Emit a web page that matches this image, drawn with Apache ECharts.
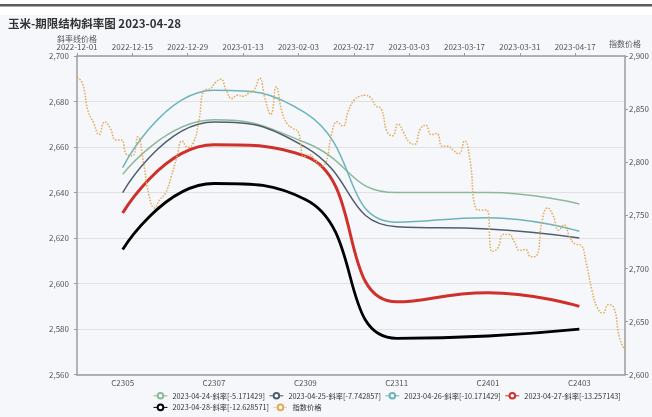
<!DOCTYPE html>
<html><head><meta charset="utf-8">
<script src="https://cdn.jsdelivr.net/npm/echarts@6/dist/echarts.min.js"></script>
<style>html,body{margin:0;padding:0;background:#fff}#c{width:652px;height:417px}</style>
</head><body><div id="c"></div>
<script>
const contracts = ['C2305','C2307','C2309','C2311','C2401','C2403'];
const s0424 = [2648, 2672, 2662, 2640, 2640, 2635];
const s0425 = [2640, 2671, 2660, 2625, 2624, 2620];
const s0426 = [2651, 2685, 2675, 2627, 2629, 2623];
const s0427 = [2631, 2661, 2656, 2592, 2596, 2590];
const s0428 = [2615, 2644, 2637, 2576, 2577, 2580];
const seriesNames = ['2023-04-24-斜率[-5.171429]','2023-04-25-斜率[-7.742857]','2023-04-26-斜率[-10.171429]','2023-04-27-斜率[-13.257143]','2023-04-28-斜率[-12.628571]','指数价格'];
const dates = [
'2022-12-01','2022-12-02','2022-12-05','2022-12-06','2022-12-07','2022-12-08','2022-12-09','2022-12-12','2022-12-13','2022-12-14',
'2022-12-15','2022-12-16','2022-12-19','2022-12-20','2022-12-21','2022-12-22','2022-12-23','2022-12-26','2022-12-27','2022-12-28',
'2022-12-29','2022-12-30','2023-01-03','2023-01-04','2023-01-05','2023-01-06','2023-01-09','2023-01-10','2023-01-11','2023-01-12',
'2023-01-13','2023-01-16','2023-01-17','2023-01-18','2023-01-19','2023-01-20','2023-01-30','2023-01-31','2023-02-01','2023-02-02',
'2023-02-03','2023-02-06','2023-02-07','2023-02-08','2023-02-09','2023-02-10','2023-02-13','2023-02-14','2023-02-15','2023-02-16',
'2023-02-17','2023-02-20','2023-02-21','2023-02-22','2023-02-23','2023-02-24','2023-02-27','2023-02-28','2023-03-01','2023-03-02',
'2023-03-03','2023-03-06','2023-03-07','2023-03-08','2023-03-09','2023-03-10','2023-03-13','2023-03-14','2023-03-15','2023-03-16',
'2023-03-17','2023-03-20','2023-03-21','2023-03-22','2023-03-23','2023-03-24','2023-03-27','2023-03-28','2023-03-29','2023-03-30',
'2023-03-31','2023-04-03','2023-04-04','2023-04-06','2023-04-07','2023-04-10','2023-04-11','2023-04-12','2023-04-13','2023-04-14',
'2023-04-17','2023-04-18','2023-04-19','2023-04-20','2023-04-21','2023-04-24','2023-04-25','2023-04-26','2023-04-27','2023-04-28'];
const indexPrice = [
2880, 2874, 2848, 2837, 2826, 2838, 2832, 2821, 2821, 2807,
2806, 2824, 2800, 2769, 2757, 2765, 2771, 2786, 2804, 2820,
2814, 2818, 2838, 2868, 2869, 2875, 2878, 2867, 2860, 2863,
2862, 2865, 2868, 2879, 2859, 2845, 2871, 2848, 2836, 2832,
2828, 2805, 2807, 2802, 2796, 2800, 2827, 2838, 2834, 2848,
2858, 2862, 2863, 2861, 2853, 2850, 2829, 2825, 2836, 2828,
2819, 2817, 2831, 2835, 2826, 2827, 2815, 2815, 2811, 2808,
2820, 2802, 2757, 2755, 2755, 2716, 2719, 2732, 2732, 2725,
2717, 2718, 2711, 2712, 2744, 2757, 2750, 2736, 2741, 2730,
2723, 2722, 2705, 2680, 2663, 2658, 2666, 2663, 2635, 2623];

const colors = ['#8db89b','#4f5e6e','#6cb4b9','#cf302c','#000000','#e3a955'];
const axisColor = '#9c9c9c';
const fmt = v => Number(v).toLocaleString('en-US');
const chart = echarts.init(document.getElementById('c'));
const curve = (i, data, w) => ({
  name: seriesNames[i], type:'line', data: data, xAxisIndex:0, yAxisIndex:0,
  smooth:true, symbol:'emptyCircle', showSymbol:false,
  lineStyle:{width:w, color:colors[i]}, itemStyle:{color:colors[i]}
});
chart.setOption({
  animation:false,
  backgroundColor:'#ffffff',
  textStyle:{fontFamily:'"Noto Sans CJK SC", sans-serif'},
  graphic:[
    {type:'rect', shape:{x:0,y:15,width:652,height:402}, style:{fill:'#f5f7fb'}, z:-10, silent:true},
    {type:'rect', shape:{x:0,y:4,width:652,height:2.5}, style:{fill:'#5a5a5a'}, z:-10, silent:true}
  ],
  title:{text:'玉米-期限结构斜率图 2023-04-28', left:8, top:18, padding:0,
    textStyle:{fontSize:11.5, fontWeight:'bold', color:'#333'}},
  legend:{left:148, top:387, width:500, itemWidth:14, itemHeight:7, itemGap:4,
    textStyle:{fontSize:7.3, color:'#333'},
    data: seriesNames.map(n => ({name:n, lineStyle:{width:1}, itemStyle:{borderWidth:1}}))},
  grid:{left:77, right:21.5, top:56, bottom:42.3},
  xAxis:[
    {type:'category', data:contracts, position:'bottom', boundaryGap:true,
     axisLine:{lineStyle:{color:axisColor, width:1.5}},
     axisTick:{length:3, lineStyle:{color:axisColor}},
     axisLabel:{fontSize:8, color:'#555', margin:4}, splitLine:{show:false}},
    {type:'category', data:dates, position:'top', boundaryGap:false,
     axisLine:{lineStyle:{color:axisColor, width:1.5}},
     axisTick:{interval:9, length:3, lineStyle:{color:axisColor}},
     axisLabel:{interval:9, fontSize:8, color:'#555', margin:5}, splitLine:{show:false}}
  ],
  yAxis:[
    {type:'value', min:2560, max:2700, interval:20, position:'left',
     name:'斜率线价格', nameGap:8, nameTextStyle:{fontSize:8, color:'#555'},
     axisLine:{show:true, lineStyle:{color:axisColor, width:1.5}},
     axisTick:{show:true, length:3, lineStyle:{color:axisColor}},
     axisLabel:{fontSize:8, color:'#555', margin:8, formatter:fmt},
     splitLine:{show:true, lineStyle:{color:'#e1e1e1', width:1}}},
    {type:'value', min:2600, max:2900, interval:50, position:'right',
     name:'指数价格', nameGap:8, nameTextStyle:{fontSize:8, color:'#555'},
     axisLine:{show:true, lineStyle:{color:axisColor, width:1.5}},
     axisTick:{show:true, length:3, lineStyle:{color:axisColor}},
     axisLabel:{fontSize:8, color:'#555', margin:4, formatter:fmt},
     splitLine:{show:false}}
  ],
  series:[
    curve(0, s0424, 1.5),
    curve(1, s0425, 1.5),
    curve(2, s0426, 1.5),
    curve(3, s0427, 3),
    curve(4, s0428, 2.8),
    {name:seriesNames[5], type:'line', data:indexPrice, xAxisIndex:1, yAxisIndex:1,
     smooth:true, symbol:'emptyCircle', showSymbol:false,
     lineStyle:{width:1.5, type:'dotted', color:colors[5]}, itemStyle:{color:colors[5]}}
  ]
});
</script></body></html>
